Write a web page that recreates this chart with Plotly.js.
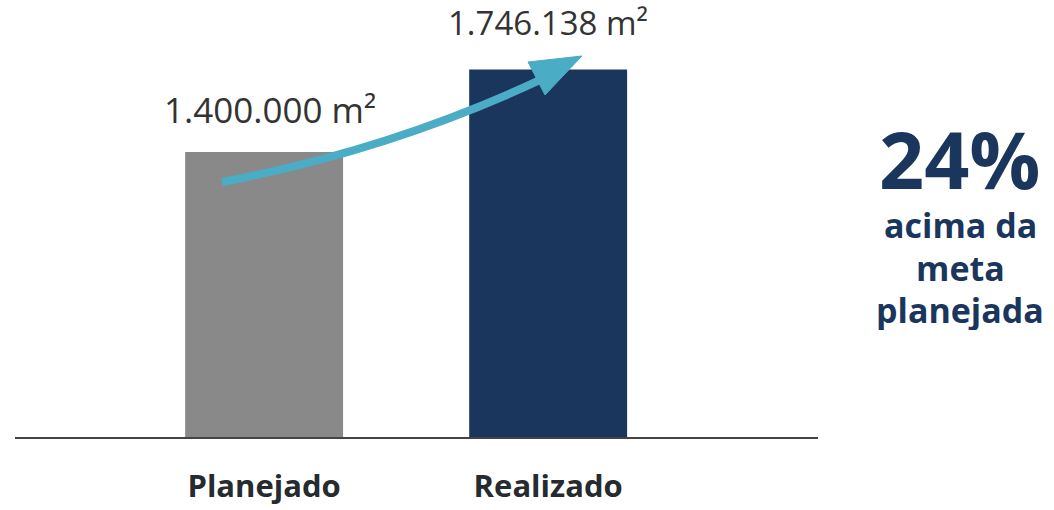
<!DOCTYPE html>
<html>
<head>
<meta charset="utf-8">
<script src="https://cdn.plot.ly/plotly-3.0.1.min.js"></script>
<style>
html,body{margin:0;padding:0;background:#fff;}
#chart{width:1054px;height:510px;}
</style>
</head>
<body>
<div id="chart"></div>
<script>
const categories = ["Planejado", "Realizado"];
const values = [1400000, 1746138];
const valueLabels = ["1.400.000 m²", "1.746.138 m²"];
const barColors = ["#898989", "#1B365D"];
const highlightNumber = "24%";
const highlightLines = ["acima da", "meta", "planejada"];

const FONT = "Open Sans, sans-serif";
const yMin = 202800, yMax = 2038500;

const trace = {
  type: "bar",
  x: [0, 1],
  y: values,
  width: 0.556,
  marker: {color: barColors, line: {width: 0}},
  hoverinfo: "skip"
};

const labelShift = [17, 23];
const labelSize = [35, 33];
const annotations = values.map((v, i) => ({
  x: i, y: v, xref: "x", yref: "y",
  text: valueLabels[i], showarrow: false,
  xanchor: "center", yanchor: "bottom", yshift: labelShift[i], xshift: i === 0 ? 6 : 0,
  font: {family: FONT, size: labelSize[i], color: "#333333"}
}));

annotations.push({
  x: 1.177, y: 0.638, xref: "paper", yref: "paper",
  text: "<b>" + highlightNumber + "</b>", showarrow: false,
  xanchor: "center", yanchor: "middle", height: 80,
  font: {family: FONT, size: 79, color: "#1B365D"}
});
const lineY = [0.484, 0.387, 0.291];
highlightLines.forEach((t, i) => annotations.push({
  x: 1.177, y: lineY[i], xref: "paper", yref: "paper",
  text: "<b>" + t + "</b>", showarrow: false,
  xanchor: "center", yanchor: "middle", height: 40,
  font: {family: FONT, size: 34, color: "#1B365D"}
}));

// curved arrow between bars (data coordinates)
const shapes = [
  {type: "path", xref: "x", yref: "y", layer: "above",
   path: "M -0.148,1274000 Q 0.443,1408400 0.972,1702500",
   line: {color: "#4BACC6", width: 8}},
  {type: "path", xref: "x", yref: "y", layer: "above",
   path: "M 1.119,1803300 L 0.929,1778100 L 0.989,1639500 Z",
   fillcolor: "#4BACC6", line: {color: "#4BACC6", width: 1}}
];

const layout = {
  width: 1054, height: 510,
  margin: {l: 15, r: 236, t: 0, b: 73},
  paper_bgcolor: "#ffffff", plot_bgcolor: "#ffffff",
  showlegend: false,
  xaxis: {
    range: [-0.877, 1.95],
    tickvals: [0, 1], ticktext: categories.map(c => "<b>" + c + "</b>"),
    tickfont: {family: FONT, size: 31, color: "#262B2F"},
    ticks: "", ticklabelstandoff: 21,
    showline: true, linecolor: "#444444", linewidth: 2,
    showgrid: false, zeroline: false, fixedrange: true
  },
  yaxis: {
    range: [yMin, yMax], visible: false, showgrid: false, zeroline: false, fixedrange: true
  },
  annotations: annotations,
  shapes: shapes
};

Plotly.newPlot("chart", [trace], layout, {displayModeBar: false, staticPlot: true});
</script>
</body>
</html>
